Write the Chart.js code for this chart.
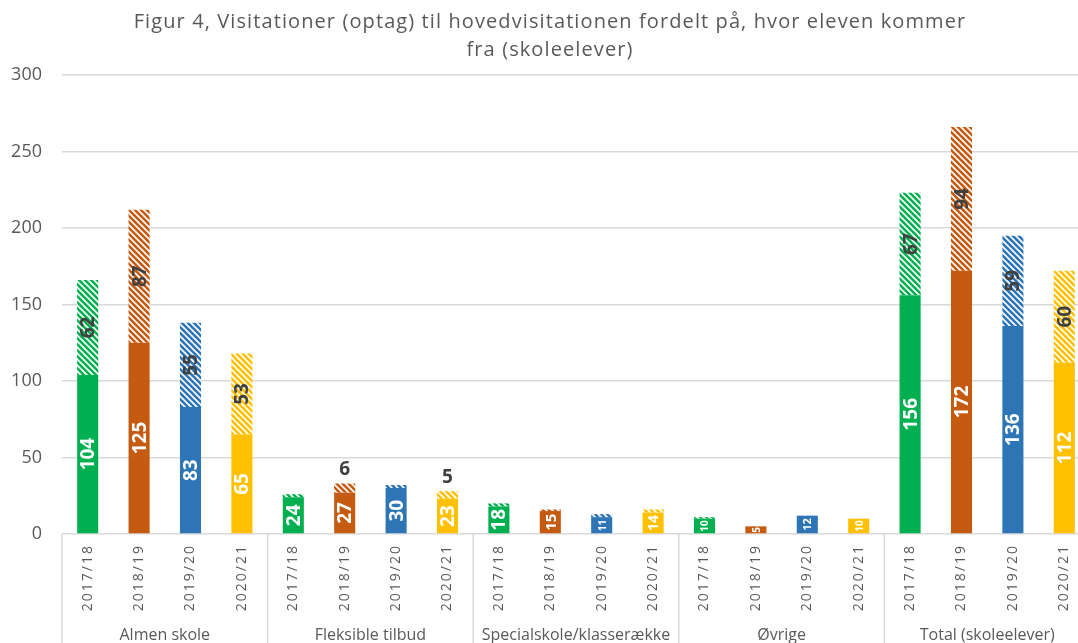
<!DOCTYPE html>
<html lang="da">
<head>
    <meta charset="UTF-8">
    <title>Figur 4, Visitationer</title>
    <script src="https://cdn.jsdelivr.net/npm/chart.js"></script>
    <style>
        body {
            margin: 0;
            background: #fff;
            overflow: hidden;
        }
        #wrap {
            width: 1092px;
            height: 643px;
        }
    </style>
</head>
<body>
<div id="wrap"><canvas id="chart" width="1092" height="643"></canvas></div>
<script>
    // groups and years
    const groups = ['Almen skole', 'Fleksible tilbud', 'Specialskole/klasserække', 'Øvrige', 'Total (skoleelever)'];
    const years = ['2017/18', '2018/19', '2019/20', '2020/21'];
    const yearColors = ['#00B050', '#C55A11', '#2E75B6', '#FFC000'];
    const titleLines = ['Figur 4, Visitationer (optag) til hovedvisitationen fordelt på, hvor eleven kommer', 'fra (skoleelever)'];

    // solid part per group (order of years)
    const solidAlmen = [104, 125, 83, 65];
    const solidFleks = [24, 27, 30, 23];
    const solidSpecial = [18, 15, 11, 14];
    const solidOevrige = [10, 5, 12, 10];
    const solidTotal = [156, 172, 136, 112];

    // hatched part per group
    const hatchAlmen = [62, 87, 55, 53];
    const hatchFleks = [2, 6, 2, 5];
    const hatchSpecial = [2, 1, 2, 2];
    const hatchOevrige = [1, 0, 0, 0];
    const hatchTotal = [67, 94, 59, 60];

    const yTicks = [0, 50, 100, 150, 200, 250, 300];

    const solidData = [].concat(solidAlmen, solidFleks, solidSpecial, solidOevrige, solidTotal);
    const hatchData = [].concat(hatchAlmen, hatchFleks, hatchSpecial, hatchOevrige, hatchTotal);
    const labels = [];
    groups.forEach(g => years.forEach(y => labels.push(y)));

    function hatch(color) {
        const s = 6;
        const c = document.createElement('canvas');
        c.width = s; c.height = s;
        const x = c.getContext('2d');
        x.fillStyle = color;
        x.fillRect(0, 0, s, s);
        x.strokeStyle = '#fff';
        x.lineWidth = 1.6;
        for (let k = -s; k <= s; k += s) {
            x.beginPath();
            x.moveTo(k - 1, -1);
            x.lineTo(k + s + 1, s + 1);
            x.stroke();
        }
        return x.createPattern(c, 'repeat');
    }
    const patterns = yearColors.map(hatch);
    const solidColors = labels.map((l, i) => yearColors[i % 4]);
    const hatchColors = labels.map((l, i) => patterns[i % 4]);

    const grey = '#595959';

    // title drawn by hand so letter spacing can be set
    const titleDraw = {
        id: 'titleDraw',
        afterDraw(chart) {
            const ctx = chart.ctx;
            ctx.save();
            ctx.fillStyle = grey;
            ctx.font = '20px "Open Sans"';
            ctx.letterSpacing = '1.1px';
            ctx.textAlign = 'center';
            ctx.textBaseline = 'middle';
            ctx.fillText(titleLines[0], 550, 22);
            ctx.fillText(titleLines[1], 550, 50);
            ctx.restore();
        }
    };

    // value labels on the segments
    const valueLabels = {
        id: 'valueLabels',
        afterDatasetsDraw(chart) {
            const ctx = chart.ctx;
            chart.data.datasets.forEach((ds, di) => {
                const meta = chart.getDatasetMeta(di);
                meta.data.forEach((bar, i) => {
                    const v = ds.data[i];
                    const top = bar.y, bottom = bar.base;
                    const h = bottom - top;
                    const left = bar.x - bar.width / 2;
                    const txt = String(v);
                    ctx.save();
                    if (di === 0) {
                        let size = 19;
                        ctx.font = 'bold ' + size + 'px "Open Sans"';
                        let w = ctx.measureText(txt).width;
                        if (w > h - 4) {
                            size = Math.max(10, Math.floor(size * (h - 4) / w));
                            ctx.font = 'bold ' + size + 'px "Open Sans"';
                        }
                        ctx.beginPath();
                        ctx.rect(left, top, bar.width, h);
                        ctx.clip();
                        ctx.translate(bar.x, (top + bottom) / 2);
                        ctx.rotate(-Math.PI / 2);
                        ctx.fillStyle = '#fff';
                        ctx.textAlign = 'center';
                        ctx.textBaseline = 'middle';
                        ctx.fillText(txt, 0, 1);
                    } else if (v >= 3) {
                        ctx.font = 'bold 19px "Open Sans"';
                        ctx.fillStyle = '#404040';
                        ctx.textAlign = 'center';
                        ctx.textBaseline = 'middle';
                        const w = ctx.measureText(txt).width;
                        if (h > w + 4) {
                            ctx.translate(bar.x, (top + bottom) / 2);
                            ctx.rotate(-Math.PI / 2);
                            ctx.fillText(txt, 0, 1);
                        } else {
                            ctx.fillText(txt, bar.x, top - 14);
                        }
                    }
                    ctx.restore();
                });
            });
        }
    };

    // year labels, group labels and separators under the axis
    const xAxisDraw = {
        id: 'xAxisDraw',
        afterDraw(chart) {
            const ctx = chart.ctx;
            const area = chart.chartArea;
            const xs = chart.scales.x;
            const slot = (area.right - area.left) / labels.length;
            ctx.save();
            ctx.strokeStyle = '#d9d9d9';
            ctx.lineWidth = 1.5;
            for (let g = 0; g <= groups.length; g++) {
                const x = area.left + g * 4 * slot;
                ctx.beginPath();
                ctx.moveTo(x, area.bottom);
                ctx.lineTo(x, chart.height);
                ctx.stroke();
            }
            ctx.fillStyle = grey;
            ctx.font = '14px "Open Sans"';
            ctx.letterSpacing = '2px';
            ctx.textAlign = 'right';
            ctx.textBaseline = 'middle';
            labels.forEach((l, i) => {
                const x = xs.getPixelForValue(i);
                ctx.save();
                ctx.translate(x, area.bottom + 10);
                ctx.rotate(-Math.PI / 2);
                ctx.fillText(l, 0, 0);
                ctx.restore();
            });
            ctx.letterSpacing = '0px';
            ctx.font = '16px "Open Sans"';
            ctx.textAlign = 'center';
            ctx.textBaseline = 'top';
            groups.forEach((g, gi) => {
                const x = area.left + (gi * 4 + 2) * slot;
                ctx.fillText(g, x, 627);
            });
            ctx.restore();
        }
    };

    new Chart(document.getElementById('chart'), {
        type: 'bar',
        data: {
            labels: labels,
            datasets: [
                { label: 'solid', data: solidData, backgroundColor: solidColors, borderWidth: 0 },
                { label: 'hatch', data: hatchData, backgroundColor: hatchColors, borderWidth: 0 }
            ]
        },
        options: {
            responsive: false,
            animation: false,
            events: [],
            layout: { padding: { top: 75, bottom: 109, right: 2 } },
            datasets: { bar: { categoryPercentage: 1, barPercentage: 0.41 } },
            scales: {
                x: {
                    stacked: true,
                    display: false
                },
                y: {
                    stacked: true,
                    min: 0,
                    max: 300,
                    afterFit(scale) { scale.width = 62; },
                    afterBuildTicks(scale) { scale.ticks = yTicks.map(v => ({ value: v })); },
                    border: { display: false },
                    grid: { color: '#d9d9d9', lineWidth: 1.5, drawTicks: false },
                    ticks: {
                        color: grey,
                        font: { family: 'Open Sans', size: 18 },
                        padding: 20
                    }
                }
            },
            plugins: {
                legend: { display: false },
                tooltip: { enabled: false },
                title: { display: false }
            }
        },
        plugins: [valueLabels, xAxisDraw, titleDraw]
    });
</script>
</body>
</html>
